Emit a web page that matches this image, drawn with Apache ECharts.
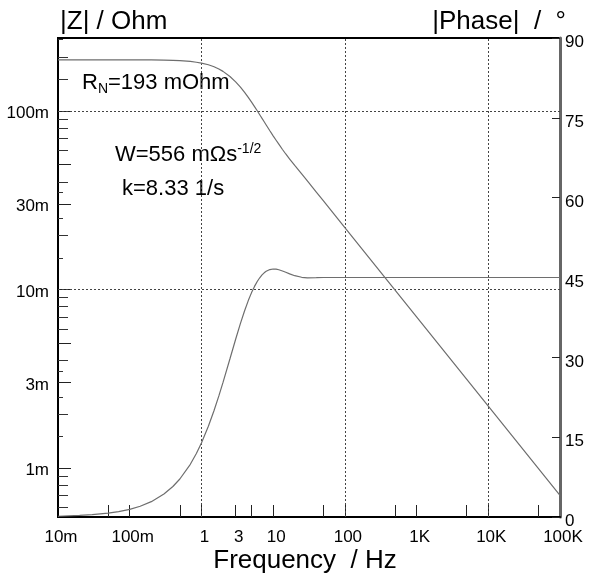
<!DOCTYPE html>
<html><head><meta charset="utf-8">
<script src="https://cdn.jsdelivr.net/npm/echarts@6/dist/echarts.min.js"></script>
<style>html,body{margin:0;padding:0;background:#fff}#c{width:593px;height:580px}</style>
</head><body><div id="c"></div>
<script>
// ---- data ----
const frequencyHz = [0.01,0.02,0.03,0.05,0.07,0.1,0.14,0.2,0.3,0.4,0.5,0.7,0.85,1,1.25,1.5,1.75,2,2.5,3,3.5,4,4.5,5,5.5,6,6.5,7,7.5,8,9,10,11,12,13.5,15,17,20,25,30,40,50,100,1000,10000,100000];
const impedanceOhm = [0.1930,0.1930,0.1930,0.1930,0.1929,0.1929,0.19283,0.19266,0.1922,0.19165,0.1909,0.18895,0.1871,0.1851,0.1810,0.1764,0.1715,0.1663,0.1557,0.1453,0.1357,0.1269,0.1189,0.1119,0.1056,0.1001,0.0951,0.0907,0.0868,0.0833,0.0773,0.0724,0.0684,0.0650,0.0607,0.0573,0.0537,0.0494,0.0443,0.0405,0.03507,0.03137,0.02218,0.007014,0.002218,0.0007014];
const phaseDeg = [0.14,0.29,0.43,0.72,1.01,1.44,2.02,2.88,4.31,5.73,7.14,9.90,11.93,13.89,17.04,20.00,22.75,25.29,29.74,33.40,36.38,38.76,40.66,42.16,43.33,44.25,44.95,45.48,45.88,46.16,46.49,46.60,46.56,46.46,46.23,45.99,45.68,45.34,45.04,44.94,44.96,45.0,45.0,45.0,45.0,45.0];

const xLabelValues = [0.01,0.1,1,3,10,100,1000,10000,100000];
const xLabelTexts = ['10m','100m','1','3','10','100','1K','10K','100K'];
const xTickValues = [0.05,0.1,0.5,1,3,5,10,50,100,500,1000,5000,10000,50000];
const xGridValues = [1,100,10000];

const zLabelValues = [0.001,0.003,0.01,0.03,0.1];
const zLabelTexts = ['1m','3m','10m','30m','100m'];
const zLongTicks = [0.001,0.003,0.005,0.01,0.03,0.05,0.1];
const zMidTicks = [0.0006,0.0007,0.0008,0.0009,0.002,0.004,0.006,0.007,0.008,0.009,0.02,0.04,0.06,0.07,0.08,0.09,0.15,0.2];
const zShortTicks = [0.0015,0.0025,0.0035,0.015,0.025,0.035,0.25];
const zGridValues = [0.1,0.01,0.001];

const xMin = 0.01, xMax = 100000;
const zMin = 0.000531, zMax = 0.2557;
const phaseMin = 0, phaseMax = 90, phaseStep = 15;

const FONT = '"Liberation Sans", Arial, sans-serif';
function pick(vals, texts){
  return function(v){
    for (let i=0;i<vals.length;i++){ if (Math.abs(Math.log10(v/vals[i]))<0.005) return texts[i]; }
    return '';
  };
}
const chart = echarts.init(document.getElementById('c'), null, {renderer:'canvas'});
const gridStyle = {color:'#444', width:1, type:[2,2]};
const extraLeft = (ticks, len) => ({
  type:'log', min:zMin, max:zMax, position:'left', gridIndex:0,
  axisLine:{show:false}, axisLabel:{show:false}, splitLine:{show:false},
  axisTick:{show:true, inside:true, length:len, customValues:ticks, lineStyle:{color:'#333', width:1}}
});
chart.setOption({
  animation:false,
  backgroundColor:'#fff',
  textStyle:{fontFamily:FONT},
  grid:{left:58, right:33, top:38, bottom:63, show:true, borderColor:'#000', borderWidth:2, backgroundColor:'#fff'},
  xAxis:[{
    type:'log', min:xMin, max:xMax, position:'bottom',
    axisLine:{show:true, lineStyle:{color:'#000', width:2}},
    axisTick:{show:true, inside:true, length:12, customValues:xTickValues, lineStyle:{color:'#222', width:1}},
    axisLabel:{show:true, customValues:xLabelValues, formatter:pick(xLabelValues,xLabelTexts), color:'#000', fontSize:17, fontFamily:FONT, margin:12, padding:[0,0,0,6]},
    splitLine:{show:false}, minorTick:{show:false}
  }],
  yAxis:[{
    type:'log', min:zMin, max:zMax, position:'left',
    axisLine:{show:true, lineStyle:{color:'#000', width:2}},
    axisTick:{show:true, inside:true, length:13, customValues:zLongTicks, lineStyle:{color:'#222', width:1}},
    axisLabel:{show:true, customValues:zLabelValues, formatter:pick(zLabelValues,zLabelTexts), color:'#000', fontSize:17, fontFamily:FONT, margin:9, verticalAlign:'top', lineHeight:5},
    splitLine:{show:false}
  },{
    type:'value', min:phaseMin, max:phaseMax, interval:phaseStep, position:'right',
    axisLine:{show:true, lineStyle:{color:'#666', width:3}},
    axisTick:{show:true, inside:true, length:8, lineStyle:{color:'#222', width:1}},
    axisLabel:{show:true, color:'#000', fontSize:17, fontFamily:FONT, margin:5, verticalAlign:'top', lineHeight:9},
    splitLine:{show:false}
  }, extraLeft(zMidTicks, 10), extraLeft(zShortTicks, 5)],
  series:[{
    name:'|Z|', type:'line', xAxisIndex:0, yAxisIndex:0,
    data: frequencyHz.map((f,i)=>[f, impedanceOhm[i]]),
    showSymbol:false, smooth:false,
    lineStyle:{color:'#6e6e6e', width:1.2}, z:3,
    markLine:{
      silent:true, symbol:'none', label:{show:false}, lineStyle:gridStyle, z:2,
      data: xGridValues.map(v=>({xAxis:v})).concat(zGridValues.map(v=>({yAxis:v})))
    }
  },{
    name:'|Phase|', type:'line', xAxisIndex:0, yAxisIndex:1,
    data: frequencyHz.map((f,i)=>[f, phaseDeg[i]]),
    showSymbol:false, smooth:false,
    lineStyle:{color:'#6e6e6e', width:1.2}, z:3
  }],
  graphic:[
    {type:'text', style:{x:60, y:22, text:'|Z| / Ohm', font:'26px '+FONT, fill:'#000', align:'left', verticalAlign:'middle'}},
    {type:'text', style:{x:566, y:22, text:'|Phase|  /  °', font:'26px '+FONT, fill:'#000', align:'right', verticalAlign:'middle'}},
    {type:'text', style:{x:305, y:561, text:'Frequency  / Hz', font:'26px '+FONT, fill:'#000', align:'center', verticalAlign:'middle'}},
    {type:'text', style:{x:82, y:83, text:'{m|R}{s|N}{m|=193 mOhm}', align:'left', verticalAlign:'middle',
      rich:{m:{fontSize:22, lineHeight:26, fontFamily:FONT, fill:'#000'}, s:{fontSize:14, lineHeight:14, fontFamily:FONT, verticalAlign:'bottom', fill:'#000'}}}},
    {type:'text', style:{x:115, y:155, text:'{m|W=556 mΩs}{p|-1/2}', align:'left', verticalAlign:'middle',
      rich:{m:{fontSize:22, lineHeight:26, fontFamily:FONT, fill:'#000'}, p:{fontSize:14, lineHeight:20, fontFamily:FONT, verticalAlign:'top', fill:'#000'}}}},
    {type:'text', style:{x:122, y:189, text:'k=8.33 1/s', font:'22px '+FONT, fill:'#000', align:'left', verticalAlign:'middle'}}
  ]
});
</script></body></html>
